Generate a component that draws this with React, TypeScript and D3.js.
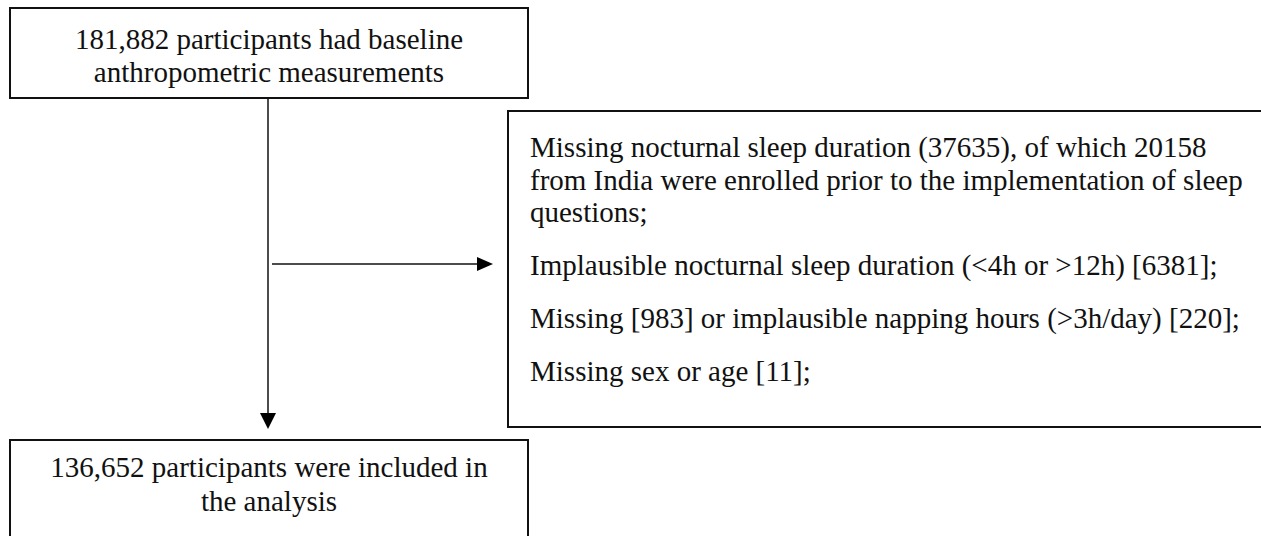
import * as d3 from "d3";

const width = 1261;
const height = 536;

// flow chart content
const topLines = ["181,882 participants had baseline", "anthropometric measurements"];
const bottomLines = ["136,652 participants were included in", "the analysis"];
const exclusionParas = [
  [
    "Missing nocturnal sleep duration (37635), of which 20158",
    "from India were enrolled prior to the implementation of sleep",
    "questions;",
  ],
  ["Implausible nocturnal sleep duration (<4h or >12h) [6381];"],
  ["Missing [983] or implausible napping hours (>3h/day) [220];"],
  ["Missing sex or age [11];"],
];

const font = "'Liberation Serif', 'Times New Roman', serif";
const fontSize = 29;
const lineH = 32.5;
const paraGap = 53;

const topBox = { x: 10, y: 8, w: 518, h: 90 };
const sideBox = { x: 508, y: 111, w: 800, h: 316 };
const bottomBox = { x: 10, y: 440, w: 518, h: 120 };

const spineX = 268;
const branchY = 264;

export default function App() {
  // exclusion text line positions
  const lines: { text: string; y: number }[] = [];
  let y = 157;
  exclusionParas.forEach((para, i) => {
    if (i > 0) y += paraGap - lineH;
    para.forEach((t) => {
      lines.push({ text: t, y });
      y += lineH;
    });
  });

  const arrowDown = d3.line()([
    [spineX - 8, 413],
    [spineX + 8, 413],
    [spineX, 429],
  ]) + "Z";
  const arrowRight = d3.line()([
    [477, branchY - 7],
    [477, branchY + 7],
    [493, branchY],
  ]) + "Z";

  const midTop = topBox.x + topBox.w / 2;
  const midBottom = bottomBox.x + bottomBox.w / 2;

  return (
    <svg
      width={width}
      height={height}
      style={{ position: "absolute", left: 0, top: 0, background: "#fff" }}
      fontFamily={font}
      fontSize={fontSize}
    >
      <rect x={topBox.x} y={topBox.y} width={topBox.w} height={topBox.h} fill="none" stroke="#111" strokeWidth={2} />
      {topLines.map((t, i) => (
        <text key={t} x={midTop} y={49 + i * 33} textAnchor="middle" fill="#111">
          {t}
        </text>
      ))}

      <line x1={spineX} y1={topBox.y + topBox.h} x2={spineX} y2={415} stroke="#111" strokeWidth={1.5} />
      <path d={arrowDown} fill="#000" />
      <line x1={272} y1={branchY} x2={480} y2={branchY} stroke="#111" strokeWidth={1.5} />
      <path d={arrowRight} fill="#000" />

      <rect x={sideBox.x} y={sideBox.y} width={sideBox.w} height={sideBox.h} fill="none" stroke="#111" strokeWidth={2} />
      {lines.map((l) => (
        <text key={l.text} x={530} y={l.y} fill="#111">
          {l.text}
        </text>
      ))}

      <rect x={bottomBox.x} y={bottomBox.y} width={bottomBox.w} height={bottomBox.h} fill="none" stroke="#111" strokeWidth={2} />
      {bottomLines.map((t, i) => (
        <text key={t} x={midBottom} y={477 + i * 34} textAnchor="middle" fill="#111">
          {t}
        </text>
      ))}
    </svg>
  );
}
